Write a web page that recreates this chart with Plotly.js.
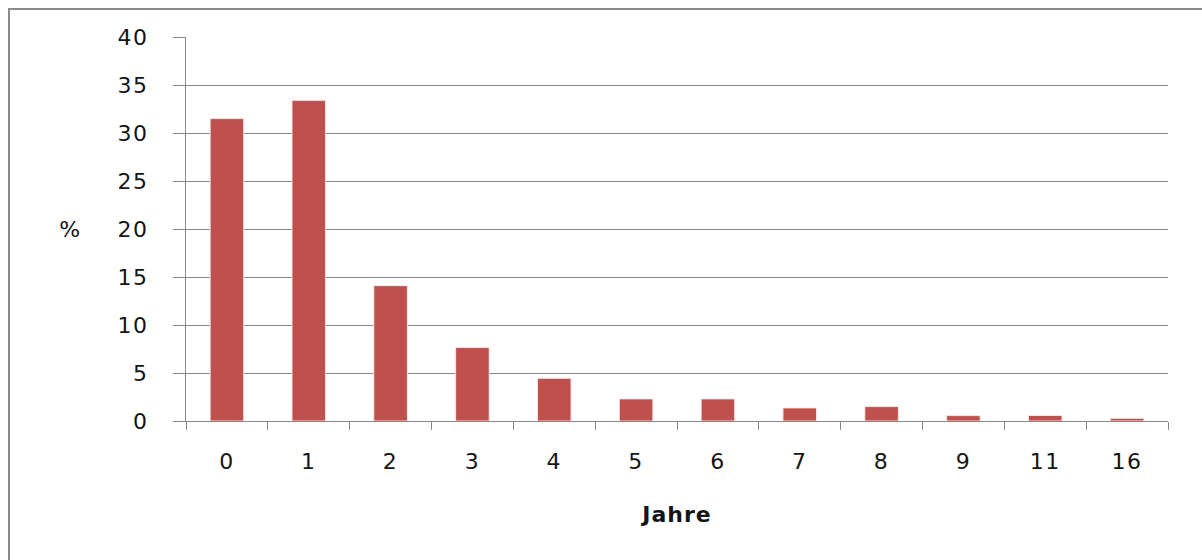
<!DOCTYPE html>
<html>
<head>
<meta charset="utf-8">
<script src="https://cdn.plot.ly/plotly-3.0.1.min.js"></script>
<style>
html,body{margin:0;padding:0;background:#fff;}
#chart{width:1202px;height:560px;}
#chart .xtick text, #chart .ytick text, #chart .annotation-text { letter-spacing: 1.5px; }
#chart .xtitle { letter-spacing: 1px; }
</style>
</head>
<body>
<div id="chart"></div>
<script>
const categories = ["0","1","2","3","4","5","6","7","8","9","11","16"];
const percentValues = [31.5, 33.4, 14.1, 7.65, 4.45, 2.3, 2.3, 1.36, 1.5, 0.56, 0.58, 0.28];
const xAxisTitle = "Jahre";
const yAxisLabel = "%";

const gridColor = "#878787";
const textColor = "#141414";
const fontFamily = "DejaVu Sans, Verdana, sans-serif";

const trace = {
  type: "bar",
  x: categories,
  y: percentValues,
  marker: {color: "#C0504D", line: {color: "rgba(255,235,235,0.9)", width: 1}},
  hoverinfo: "x+y"
};

const layout = {
  width: 1202,
  height: 560,
  margin: {l: 186, r: 34, t: 37, b: 139, pad: 0},
  paper_bgcolor: "#ffffff",
  plot_bgcolor: "#ffffff",
  showlegend: false,
  bargap: 0.59,
  font: {family: fontFamily, color: textColor},
  xaxis: {
    type: "category",
    tickson: "boundaries",
    ticks: "outside",
    ticklen: 8,
    tickwidth: 1,
    tickcolor: gridColor,
    showline: true,
    linecolor: gridColor,
    linewidth: 1,
    showgrid: false,
    zeroline: false,
    tickfont: {family: fontFamily, size: 22, color: textColor},
    ticklabelstandoff: 21,
    title: {text: xAxisTitle, font: {family: fontFamily, size: 22, color: textColor, weight: "bold"}, standoff: 33}
  },
  yaxis: {
    range: [0, 40],
    dtick: 5,
    tick0: 0,
    ticks: "outside",
    ticklen: 12,
    tickwidth: 1,
    tickcolor: gridColor,
    showline: true,
    linecolor: gridColor,
    linewidth: 1,
    showgrid: true,
    gridcolor: gridColor,
    gridwidth: 1,
    zeroline: false,
    tickfont: {family: fontFamily, size: 22, color: textColor},
    ticklabelstandoff: 20
  },
  annotations: [{
    text: yAxisLabel,
    xref: "paper", yref: "paper",
    x: (70 - 186) / 982, y: (420.7 - 229) / 383.7,
    xanchor: "center", yanchor: "middle",
    showarrow: false,
    font: {family: fontFamily, size: 22, color: textColor}
  }],
  shapes: [{
    type: "rect",
    xref: "paper", yref: "paper",
    x0: (9 - 186) / 982, x1: 1.2,
    y0: -0.6, y1: (420.7 - 9) / 383.7,
    line: {color: "#8a8a8a", width: 2},
    fillcolor: "rgba(0,0,0,0)",
    layer: "below"
  }]
};

Plotly.newPlot("chart", [trace], layout, {displayModeBar: false, staticPlot: true});
</script>
</body>
</html>
